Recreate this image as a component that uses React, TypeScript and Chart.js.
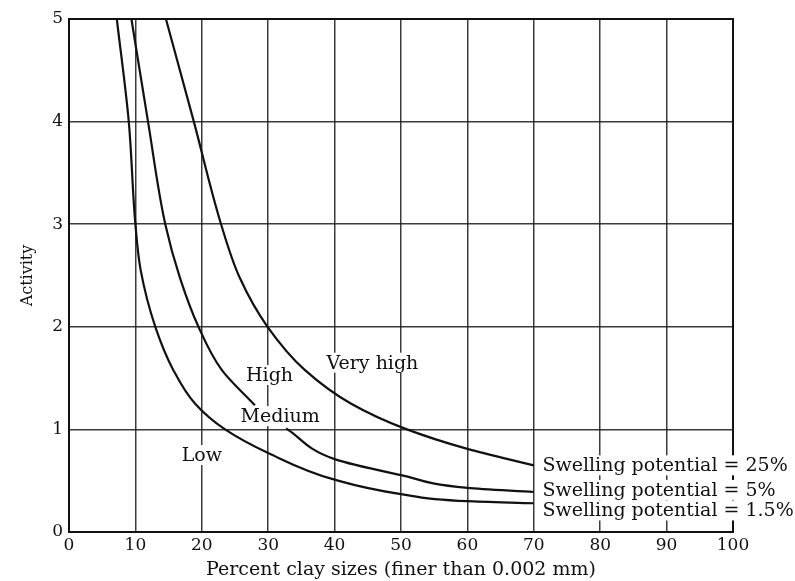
import React, { useEffect, useRef } from "react";
import { Chart, registerables } from "chart.js";

Chart.register(...registerables);

// Percent clay sizes (x) and activity (y) along each swelling-potential boundary
const lowX = [7.2, 9.0, 10.0, 10.8, 13.0, 15.7, 19.0, 23.5, 30, 40, 50, 60, 70];
const lowY = [5, 4, 3, 2.55, 2, 1.58, 1.25, 1, 0.77, 0.51, 0.37, 0.30, 0.28];

const mediumUpperX = [9.4, 11.9, 14.5, 16.7, 19.5, 23.0, 28.0];
const mediumUpperY = [5, 4, 3, 2.48, 2, 1.58, 1.235];
const mediumLowerX = [32.7, 40, 50, 60, 70];
const mediumLowerY = [1.01, 0.71, 0.555, 0.43, 0.39];

const highX = [14.6, 18.8, 22.9, 25.7, 29.9, 35.5, 42.5, 50.5, 60, 70];
const highY = [5, 4, 3, 2.48, 2, 1.58, 1.25, 1.01, 0.81, 0.65];

// Region labels
const regionLabels = ["Very high", "High", "Medium", "Low"];
const regionLabelX = [45.7, 30.2, 31.8, 20.0];
const regionLabelY = [1.65, 1.53, 1.13, 0.75];

// Curve-end labels
const curveLabels = [
  "Swelling potential = 25%",
  "Swelling potential = 5%",
  "Swelling potential = 1.5%",
];
const curveLabelX = [71.3, 71.3, 71.3];
const curveLabelY = [0.65, 0.41, 0.21];

const xTitle = "Percent clay sizes (finer than 0.002 mm)";
const yTitle = "Activity";

const FONT = "'DejaVu Serif', serif";
const INK = "#111";

function pts(xs: number[], ys: number[]) {
  return xs.map((x, i) => ({ x, y: ys[i] }));
}

const labelPlugin = {
  id: "labelPlugin",
  afterDatasetsDraw(chart: any) {
    const { ctx, scales, chartArea } = chart;
    const xs = scales.x;
    const ys = scales.y;
    ctx.save();
    ctx.strokeStyle = INK;
    ctx.lineWidth = 2;
    ctx.strokeRect(chartArea.left, chartArea.top, chartArea.right - chartArea.left, chartArea.bottom - chartArea.top);

    ctx.font = `19px ${FONT}`;
    ctx.textBaseline = "middle";
    const drawBox = (text: string, px: number, py: number, align: "center" | "left") => {
      const w = ctx.measureText(text).width;
      const left = align === "center" ? px - w / 2 : px;
      ctx.fillStyle = "#fff";
      ctx.fillRect(left - 3, py - 10, w + 6, 20);
      ctx.fillStyle = INK;
      ctx.textAlign = "left";
      ctx.fillText(text, left, py + 1);
    };
    regionLabels.forEach((t, i) => {
      drawBox(t, xs.getPixelForValue(regionLabelX[i]), ys.getPixelForValue(regionLabelY[i]), "center");
    });
    curveLabels.forEach((t, i) => {
      drawBox(t, xs.getPixelForValue(curveLabelX[i]), ys.getPixelForValue(curveLabelY[i]), "left");
    });
    ctx.restore();
  },
};

export default function App() {
  const ref = useRef<HTMLCanvasElement | null>(null);
  useEffect(() => {
    document.body.style.margin = "0";
    if (!ref.current) return;
    const lineStyle = {
      borderColor: INK,
      borderWidth: 2.2,
      pointRadius: 0,
      fill: false,
      cubicInterpolationMode: "monotone" as const,
      showLine: true,
    };
    const chart = new Chart(ref.current, {
      type: "line",
      data: {
        datasets: [
          { label: "1.5%", data: pts(lowX, lowY), ...lineStyle },
          { label: "5% upper", data: pts(mediumUpperX, mediumUpperY), ...lineStyle },
          { label: "5% lower", data: pts(mediumLowerX, mediumLowerY), ...lineStyle },
          { label: "25%", data: pts(highX, highY), ...lineStyle },
        ],
      },
      options: {
        animation: false,
        responsive: false,
        indexAxis: "y",
        layout: { padding: { top: 19, right: 62, left: 0, bottom: 0 } },
        plugins: { legend: { display: false }, tooltip: { enabled: false } },
        scales: {
          x: {
            type: "linear",
            min: 0,
            max: 100,
            ticks: { stepSize: 10, color: INK, font: { family: FONT, size: 17 }, padding: 3 },
            grid: { color: "rgba(25,25,25,0.85)", lineWidth: 1.5, drawTicks: false },
            border: { display: true, color: INK, width: 2 },
            title: { display: true, text: xTitle, color: INK, font: { family: FONT, size: 19 }, padding: { top: 0, bottom: 0 } },
            afterFit: (s: any) => { s.height = 49; },
          },
          y: {
            type: "linear",
            min: 0,
            max: 5,
            ticks: { stepSize: 1, color: INK, font: { family: FONT, size: 17 }, padding: 6 },
            grid: { color: "rgba(25,25,25,0.85)", lineWidth: 1.5, drawTicks: false },
            border: { display: true, color: INK, width: 2 },
            title: { display: true, text: yTitle, color: INK, font: { family: FONT, size: 16 }, padding: { top: 18, bottom: 0 } },
            afterFit: (s: any) => { s.width = 69; },
          },
        },
      },
      plugins: [labelPlugin],
    });
    return () => chart.destroy();
  }, []);
  return <canvas ref={ref} width={795} height={581} />;
}
